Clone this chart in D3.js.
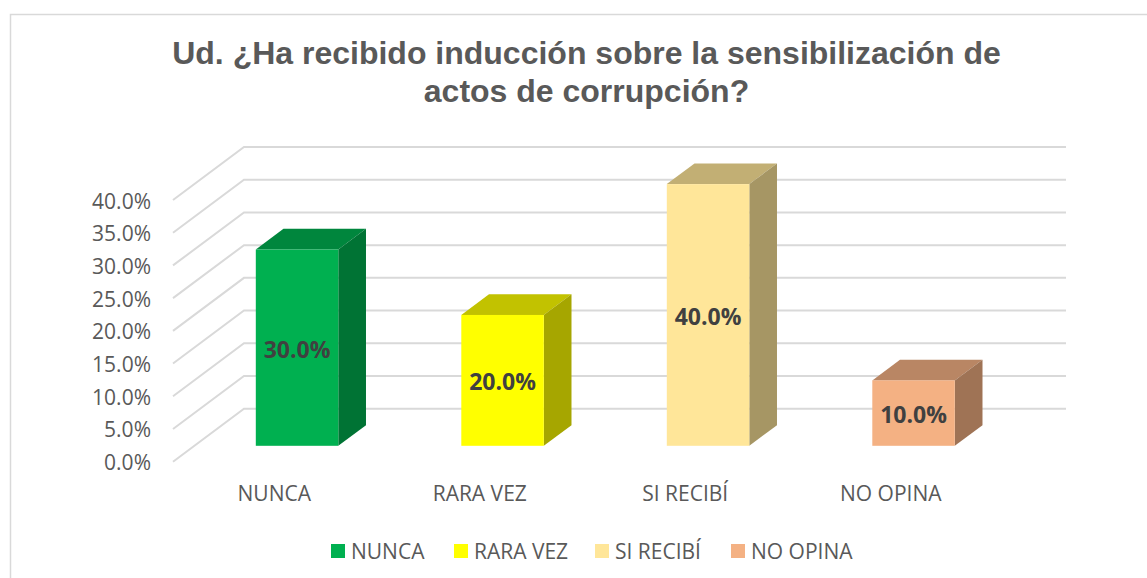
<!DOCTYPE html>
<meta charset="utf-8">
<style>
  html, body { margin: 0; background: #fff; }
  svg { display: block; }
</style>
<svg width="1147" height="578"></svg>
<script src="https://d3js.org/d3.v7.min.js"></script>
<script>
var categories = ['NUNCA', 'RARA VEZ', 'SI RECIBÍ', 'NO OPINA']
var values = [30, 20, 40, 10]
var colors = ['#00b050', '#ffff00', '#ffe699', '#f4b183']
var ticks = [0, 5, 10, 15, 20, 25, 30, 35, 40]
var titleLines = ['Ud. ¿Ha recibido inducción sobre la sensibilización de', 'actos de corrupción?']
var legendX = [331, 454, 595, 731]

var svg = d3.select('svg')
var bodyFont = '"Open Sans", sans-serif'

// chart frame, only left and top show in the picture
svg.append('path')
  .attr('d', 'M10.5,578V14.5H1147')
  .attr('fill', 'none')
  .attr('stroke', '#d9d9d9')
  .attr('stroke-width', 1.5)

svg.selectAll('text.title')
  .data(titleLines)
  .enter().append('text')
    .attr('class', 'title')
    .attr('x', 586.5)
    .attr('y', function (d, i) { return 64 + i * 38 })
    .attr('text-anchor', 'middle')
    .attr('font-family', '"Liberation Sans", Arial, sans-serif')
    .attr('font-weight', 'bold')
    .attr('font-size', 32)
    .attr('fill', '#595959')
    .text(function (d) { return d })

// front plane scales, the back wall is shifted by depth
var y = d3.scaleLinear().domain([0, 40]).range([461.7, 200])
var x = d3.scaleBand().domain(categories).range([173, 995])
var depthX = 71
var depthY = -53

var grid = svg.append('g').attr('class', 'grid')
grid.selectAll('path')
  .data(ticks)
  .enter().append('path')
    .attr('d', function (d) {
      return 'M173,' + y(d) + 'L' + (173 + depthX) + ',' + (y(d) + depthY) + 'H1066'
    })
    .attr('fill', 'none')
    .attr('stroke', '#d9d9d9')
    .attr('stroke-width', 2)

svg.append('g').selectAll('text')
  .data(ticks)
  .enter().append('text')
    .attr('x', 151)
    .attr('y', function (d) { return y(d) + 8.5 })
    .attr('text-anchor', 'end')
    .attr('font-family', bodyFont)
    .attr('font-size', 21)
    .attr('fill', '#595959')
    .text(function (d) { return d.toFixed(1) + '%' })

// bars sit 0.3 of the way into the floor and are 0.39 of it deep
var barStart = 0.3
var barDepth = 0.39
var barWidth = 82.5

var bars = svg.append('g').selectAll('g')
  .data(categories)
  .enter().append('g')
    .attr('transform', function (d) {
      return 'translate(' + (x(d) + x.bandwidth() / 2 - barWidth / 2 + depthX * barStart) + ',' + (depthY * barStart) + ')'
    })

var barDx = depthX * barDepth
var barDy = depthY * barDepth

// top face
bars.append('path')
  .attr('d', function (d, i) {
    var t = y(values[i])
    return 'M0,' + t + 'l' + barDx + ',' + barDy + 'h' + barWidth + 'l' + (-barDx) + ',' + (-barDy) + 'z'
  })
  .attr('fill', function (d, i) { return d3.color(colors[i]).darker(0.77) })

// side face
bars.append('path')
  .attr('d', function (d, i) {
    var t = y(values[i])
    return 'M' + barWidth + ',' + t + 'l' + barDx + ',' + barDy + 'V' + (y(0) + barDy) + 'l' + (-barDx) + ',' + (-barDy) + 'z'
  })
  .attr('fill', function (d, i) { return d3.color(colors[i]).darker(1.2) })

// front face
bars.append('rect')
  .attr('x', 0)
  .attr('width', barWidth)
  .attr('y', function (d, i) { return y(values[i]) })
  .attr('height', function (d, i) { return y(0) - y(values[i]) })
  .attr('fill', function (d, i) { return colors[i] })

bars.append('text')
  .attr('x', barWidth / 2)
  .attr('y', function (d, i) { return (y(values[i]) + y(0)) / 2 + 10 })
  .attr('text-anchor', 'middle')
  .attr('font-family', bodyFont)
  .attr('font-weight', 'bold')
  .attr('font-size', 23)
  .attr('fill', '#404040')
  .text(function (d, i) { return values[i].toFixed(1) + '%' })

// category labels
svg.append('g').selectAll('text')
  .data(categories)
  .enter().append('text')
    .attr('x', function (d) { return x(d) + x.bandwidth() / 2 - 1.5 })
    .attr('y', 501)
    .attr('text-anchor', 'middle')
    .attr('font-family', bodyFont)
    .attr('font-size', 21)
    .attr('fill', '#595959')
    .text(function (d) { return d })

// legend
var legend = svg.append('g').selectAll('g')
  .data(categories)
  .enter().append('g')
    .attr('transform', function (d, i) { return 'translate(' + legendX[i] + ',544)' })

legend.append('rect')
  .attr('width', 14)
  .attr('height', 14)
  .attr('fill', function (d, i) { return colors[i] })

legend.append('text')
  .attr('x', 20)
  .attr('y', 14.5)
  .attr('font-family', bodyFont)
  .attr('font-size', 21)
  .attr('fill', '#595959')
  .text(function (d) { return d })
</script>
